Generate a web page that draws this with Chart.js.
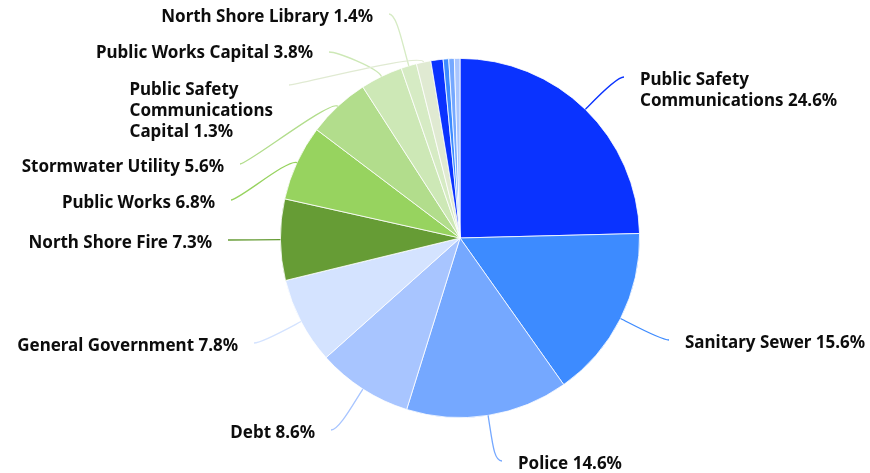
<!DOCTYPE html>
<html>
<head>
<meta charset="utf-8">
<script src="https://cdn.jsdelivr.net/npm/chart.js@4.4.1/dist/chart.umd.min.js"></script>
<style>
  html, body { margin: 0; padding: 0; background: #fff; }
</style>
</head>
<body>
<canvas id="my-chart" width="870" height="473"></canvas>
<script>
// Budget share by fund (percent)
const categories = [
  "Public Safety Communications",
  "Sanitary Sewer",
  "Police",
  "Debt",
  "General Government",
  "North Shore Fire",
  "Public Works",
  "Stormwater Utility",
  "Public Works Capital",
  "North Shore Library",
  "Public Safety Communications Capital",
  "", "", "", ""
];
const shares = [24.6, 15.6, 14.6, 8.6, 7.8, 7.3, 6.8, 5.6, 3.8, 1.4, 1.3, 1.1, 0.5, 0.5, 0.5];

const sliceColors = [
  "#0a33ff", "#3d8bff", "#75a8ff", "#a8c5ff", "#d4e3ff",
  "#669c35", "#97d35f", "#b2dd8c", "#cde8b6", "#d6ebc4", "#e0ead2",
  "#0a33ff", "#3d8bff", "#75a8ff", "#a8c5ff"
];

// where each label sits (x = edge of the text nearest its leader line)
const labelSpots = [
  { side: "right", x: 640, y: 80, reach: 12, wrap: 235 },
  { side: "right", x: 685, y: 343, reach: 15 },
  { side: "right", x: 518, y: 464, reach: 30 },
  { side: "left", x: 315, y: 433, reach: 18 },
  { side: "left", x: 238, y: 346, reach: 12 },
  { side: "left", x: 212, y: 243, reach: 10 },
  { side: "left", x: 215, y: 203, reach: 10 },
  { side: "left", x: 224, y: 167, reach: 10 },
  { side: "left", x: 313, y: 53, reach: 10, ey: -1 },
  { side: "left", x: 373, y: 17, reach: 22 },
  { side: "left", x: 273, y: 90, reach: 10, wrap: 175, ey: -5 }
];

const labelFont = "bold 17px 'Noto Sans'";
const lineHeight = 21;

const wrapText = (ctx, text, maxWidth) => {
  if (!maxWidth) return [text];
  const words = text.split(" ");
  const lines = [];
  let line = "";
  words.forEach((w) => {
    const test = line ? line + " " + w : w;
    if (line && ctx.measureText(test).width > maxWidth) {
      lines.push(line);
      line = w;
    } else {
      line = test;
    }
  });
  lines.push(line);
  return lines;
};

const leaderLabels = {
  id: "leaderLabels",
  afterDatasetsDraw(chart) {
    const ctx = chart.ctx;
    const arcs = chart.getDatasetMeta(0).data;
    ctx.save();
    ctx.font = labelFont;
    ctx.textBaseline = "middle";
    ctx.textAlign = "left";
    arcs.forEach((arc, i) => {
      const spot = labelSpots[i];
      if (!spot) return;
      const { x, y, startAngle, endAngle, outerRadius } = arc.getProps(
        ["x", "y", "startAngle", "endAngle", "outerRadius"], true
      );
      const mid = (startAngle + endAngle) / 2;
      const dx = Math.cos(mid);
      const dy = Math.sin(mid);
      const x0 = x + dx * outerRadius;
      const y0 = y + dy * outerRadius;
      const dir = spot.side === "right" ? 1 : -1;
      const x3 = spot.x - dir * 16;
      const y3 = spot.y + (spot.ey !== undefined ? spot.ey : -3);

      ctx.strokeStyle = sliceColors[i];
      ctx.lineWidth = 1.3;
      ctx.beginPath();
      ctx.moveTo(x0, y0);
      ctx.bezierCurveTo(
        x0 + dx * spot.reach, y0 + dy * spot.reach,
        x3 - dir * 8, y3,
        x3, y3
      );
      ctx.stroke();

      const text = categories[i] + " " + shares[i].toFixed(1) + "%";
      const lines = wrapText(ctx, text, spot.wrap);
      const w = Math.max(...lines.map((l) => ctx.measureText(l).width));
      const left = dir === 1 ? spot.x : spot.x - w;
      ctx.fillStyle = "#0d0d0d";
      lines.forEach((l, k) => ctx.fillText(l, left, spot.y + k * lineHeight));
    });
    ctx.restore();
  }
};

const ctx = document.getElementById("my-chart").getContext("2d");
const myChart = new Chart(ctx, {
  type: "pie",
  data: {
    labels: categories,
    datasets: [
      {
        data: shares,
        backgroundColor: sliceColors,
        borderColor: "#ffffff",
        borderWidth: 0.8,
        hoverOffset: 0
      }
    ]
  },
  options: {
    responsive: false,
    animation: false,
    layout: { padding: { top: 58, bottom: 55, left: 280, right: 230 } },
    plugins: {
      legend: { display: false },
      tooltip: { enabled: false }
    }
  },
  plugins: [leaderLabels]
});
</script>
</body>
</html>
